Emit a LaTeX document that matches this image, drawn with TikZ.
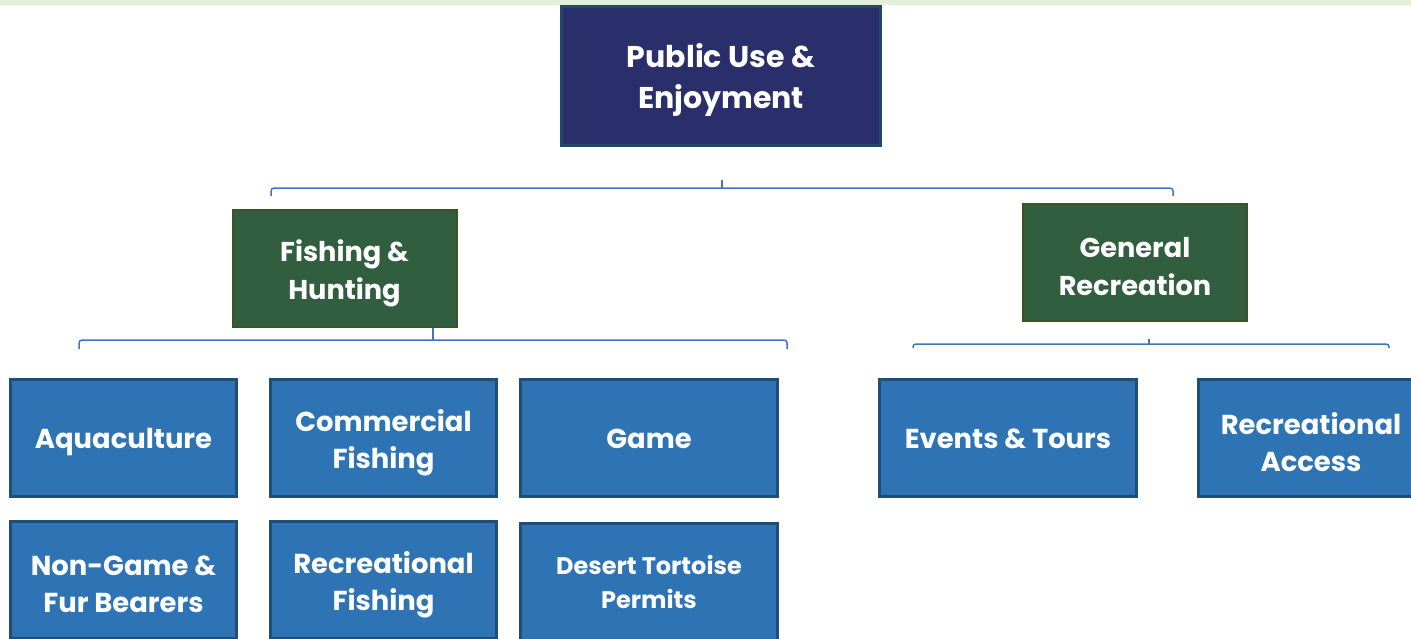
\documentclass[tikz,border=0pt]{standalone}
\usepackage{fontspec}
\setmainfont{Poppins}
\definecolor{strip}{RGB}{226,239,218}
\definecolor{navy}{RGB}{42,46,106}
\definecolor{navyedge}{RGB}{33,70,112}
\definecolor{grn}{RGB}{50,94,64}
\definecolor{grnedge}{RGB}{62,82,36}
\definecolor{blu}{RGB}{46,116,181}
\definecolor{bluedge}{RGB}{31,78,121}
\definecolor{conn}{RGB}{68,114,196}
\tikzset{
  txt/.style={text=white, align=center, inner sep=0pt, yshift=-2.2pt},
  topbox/.style={rectangle, fill=navy, draw=navyedge, line width=1.5pt},
  grnbox/.style={rectangle, fill=grn, draw=grnedge, line width=1pt},
  blubox/.style={rectangle, fill=blu, draw=bluedge, line width=1.5pt},
  toptxt/.style={txt, font=\fontsize{15}{20.5}\selectfont\bfseries},
  grntxt/.style={txt, font=\fontsize{13.6}{19}\selectfont\bfseries},
  blutxt/.style={txt, font=\fontsize{13.7}{18.5}\selectfont\bfseries},
  flattxt/.style={blutxt, yshift=2pt},
  smalltxt/.style={txt, yshift=2.2pt, font=\fontsize{12}{17}\selectfont\bfseries},
  bracket/.style={draw=conn, line width=0.75pt, rounded corners=1.5pt},
}
\begin{document}
\begin{tikzpicture}[x=0.5pt,y=-0.5pt]
\useasboundingbox (0,0) rectangle (1411,638);
\clip (0,0) rectangle (1411,638);
\fill[strip] (0,0) rectangle (1411,5);
% top level
\node[topbox, minimum width=159.5pt, minimum height=69.5pt,
  label={[toptxt]center:Public Use \&\\Enjoyment}] (top) at (721,76) {};
% second level
\node[grnbox, minimum width=112pt, minimum height=58.5pt,
  label={[grntxt]center:Fishing \&\\Hunting}] (fish) at (344.5,268.5) {};
\node[grnbox, minimum width=112pt, minimum height=58.5pt,
  label={[grntxt]center:General\\Recreation}] (gen) at (1135,262.5) {};
% third level
\node[blubox, minimum width=113pt, minimum height=58.5pt,
  label={[blutxt]center:Aquaculture}] (aqua) at (123.5,438) {};
\node[blubox, minimum width=113pt, minimum height=58.5pt,
  label={[blutxt]center:Commercial\\Fishing}] (comm) at (383.5,438) {};
\node[blubox, minimum width=128.5pt, minimum height=58.5pt,
  label={[flattxt]center:Game}] (game) at (649,438) {};
\node[blubox, minimum width=113pt, minimum height=58.5pt,
  label={[blutxt]center:Non-Game \&\\Fur Bearers}] (nong) at (123.5,580) {};
\node[blubox, minimum width=113pt, minimum height=58.5pt,
  label={[blutxt]center:Recreational\\Fishing}] (recf) at (383.5,580) {};
\node[blubox, minimum width=128.5pt, minimum height=58.5pt,
  label={[smalltxt]center:Desert Tortoise\\Permits}] (dest) at (649,582) {};
\node[blubox, minimum width=128.5pt, minimum height=58.5pt,
  label={[flattxt]center:Events \& Tours}] (even) at (1008,438) {};
\node[blubox, minimum width=112.5pt, minimum height=58.5pt,
  label={[blutxt]center:Recreational\\Access}] (reca) at (1311,438) {};
% bracket connectors
\coordinate (b1l) at (271,196);
\coordinate (b1r) at (1173,196);
\coordinate (b1c) at (722,188);
\draw[bracket] (b1l) |- (b1c) -| (b1r);
\draw[draw=conn, line width=0.75pt] (b1c) -- ++(0,-8);
\coordinate (b2l) at (79,349);
\coordinate (b2r) at (787,349);
\coordinate (b2c) at (433,340);
\draw[bracket] (b2l) |- (b2c) -| (b2r);
\draw[draw=conn, line width=0.75pt] (b2c) -- (fish.south -| b2c);
\coordinate (b3l) at (913,348);
\coordinate (b3r) at (1389,348);
\coordinate (b3c) at (1149,344);
\draw[bracket] (b3l) |- (b3c) -| (b3r);
\draw[draw=conn, line width=0.75pt] (b3c) -- ++(0,-5);
\end{tikzpicture}
\end{document}
